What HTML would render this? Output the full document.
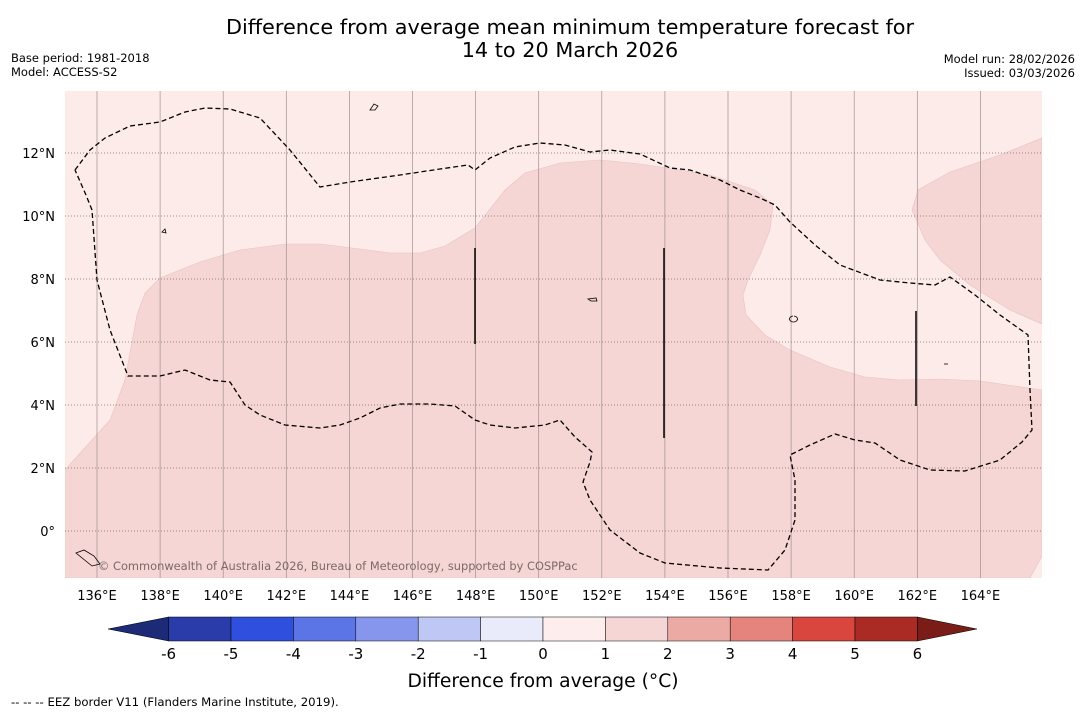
<!DOCTYPE html>
<html><head><meta charset="utf-8"><style>
body{margin:0;background:#fff;font-family:"Liberation Sans","DejaVu Sans",sans-serif;}
svg{display:block}
</style></head><body>
<svg width="1085" height="713" viewBox="0 0 1085 713" xmlns="http://www.w3.org/2000/svg" font-family="DejaVu Sans, Liberation Sans, sans-serif">
<text x="570" y="34" font-size="20.8" text-anchor="middle">Difference from average mean minimum temperature forecast for</text>
<text x="570" y="57" font-size="20.8" text-anchor="middle">14 to 20 March 2026</text>
<text x="11" y="62" font-size="11.5">Base period: 1981-2018</text>
<text x="11" y="76" font-size="11.5">Model: ACCESS-S2</text>
<text x="1075" y="63" font-size="11.5" text-anchor="end">Model run: 28/02/2026</text>
<text x="1075" y="77" font-size="11.5" text-anchor="end">Issued: 03/03/2026</text>
<defs><clipPath id="mc"><rect x="65" y="91" width="977" height="487"/></clipPath></defs>
<g clip-path="url(#mc)">
<rect x="65" y="91" width="977" height="487" fill="#fcebe9"/>
<path fill="#f5d6d4" stroke="#e8c3c0" stroke-width="0.6" d="M65,470 L110,420 L125,380 L137,315 L145,293 L160,278 L200,262 L240,250 L285,244 L320,244 L360,249 L390,253 L420,253 L445,246 L475,228 L505,190 L525,173 L560,163 L600,160 L640,164 L680,170 L710,175 L755,190 L773,205 L770,230 L760,255 L748,280 L743,295 L746,315 L765,335 L790,350 L830,367 L865,377 L900,380 L940,379 L980,381 L1042,390 L1042,556 L1030,578 L65,578 Z"/>
<path fill="#f5d6d4" stroke="#e8c3c0" stroke-width="0.6" d="M912,210 L918,190 L950,172 L1000,155 L1042,138 L1042,324 L1010,310 L970,285 L940,260 L925,240 Z"/>
<g id="grid"></g>
<path fill="none" stroke="#000" stroke-width="1.3" stroke-dasharray="5,3" d="M75,170 L90,150 L105,138 L130,126 L160,122 L185,112 L205,108 L230,109 L260,118 L290,150 L320,187 L350,182 L400,175 L440,169 L468,165 L475,170 L490,158 L515,147 L540,143 L565,145 L590,152 L610,150 L640,154 L670,168 L690,170 L720,180 L740,190 L760,198 L775,205 L790,222 L815,245 L840,265 L880,280 L910,283 L935,285 L950,277 L975,295 L1000,315 L1028,335 L1030,390 L1032,430 L1022,442 L1000,460 L965,471 L930,470 L900,460 L875,443 L855,440 L835,434 L810,445 L790,455 L795,480 L795,520 L785,550 L768,570 L720,568 L665,563 L640,553 L610,530 L590,500 L583,482 L590,462 L592,452 L575,437 L560,420 L545,425 L515,428 L490,425 L475,420 L455,406 L430,404 L400,404 L380,408 L360,418 L340,425 L320,428 L285,425 L260,415 L245,405 L230,382 L210,380 L185,370 L160,376 L128,376 L110,330 L97,280 L92,210 L86,195 L75,170"/>
<g stroke="#000" stroke-width="1.5">
<line x1="475" y1="248" x2="475" y2="344"/><line x1="664" y1="248" x2="664" y2="438"/><line x1="916" y1="311" x2="916" y2="406"/>
</g>
<g fill="none" stroke="#000" stroke-width="0.8">
<path d="M370,110 l4,-6 l4,2 l-3,4 z"/><path d="M162,232 l3,-3 l1,4 z"/><path d="M588,299 l8,-1 l1,3 l-6,0 z"/><path d="M793,316 a4,3 0 1,0 1,0"/><path d="M944,364 l4,0"/><path d="M76,553 l8,-3 l10,6 l6,8 l-8,2 z"/>
</g>
<text x="98" y="570" font-size="11.4" fill="#7a6a6a">© Commonwealth of Australia 2026, Bureau of Meteorology, supported by COSPPac</text>
</g>
<g id="axes"></g>
<g id="cbar"></g>
<text x="543" y="687" font-size="18.7" text-anchor="middle">Difference from average (°C)</text>
<text x="11" y="706" font-size="11.7">--  --  -- EEZ border V11 (Flanders Marine Institute, 2019).</text>
</svg>
<script>
const NS="http://www.w3.org/2000/svg";
const lonTicks=[136,138,140,142,144,146,148,150,152,154,156,158,160,162,164];
const latTicks=[0,2,4,6,8,10,12];
const cbLevels=[-6,-5,-4,-3,-2,-1,0,1,2,3,4,5,6];
const cbColors=["#2a3caa","#2f4fdf","#5b74e6","#8596ec","#bfc7f4","#e9ebfb","#fdeeed","#f5d6d4","#ecaaa5","#e4847d","#d8463d","#a92b24"];
const xLon=l=>97+(l-136)*31.55, yLat=l=>531-l*31.5;
const xCb=v=>543+v*62.4;
function mk(t,a,p){const e=document.createElementNS(NS,t);for(const k in a)e.setAttribute(k,a[k]);p.appendChild(e);return e;}
const grid=document.getElementById('grid'),axes=document.getElementById('axes'),cb=document.getElementById('cbar');
lonTicks.forEach(l=>{
 const ln=mk('line',{x1:xLon(l),x2:xLon(l),y1:91,y2:578,stroke:'#a09090','stroke-width':0.7},grid);
 
 
 const t=mk('text',{x:xLon(l),y:600,'font-size':13,'text-anchor':'middle'},axes);t.textContent=l+'°E';
 
 
});
latTicks.forEach(l=>{
 const ln=mk('line',{x1:65,x2:1042,y1:yLat(l),y2:yLat(l),stroke:'#806868','stroke-width':0.7,'stroke-dasharray':'1,2'},grid);
 
 
 const t=mk('text',{x:55,y:yLat(l)+5,'font-size':13,'text-anchor':'end'},axes);t.textContent=l===0?'0°':l+'°N';
 
 
});
const lo=mk('polygon',{points:`${xCb(-6)},617 108,629 ${xCb(-6)},641`,fill:'#1c2a78',stroke:'#000','stroke-width':0.5},cb);


const hi=mk('polygon',{points:`${xCb(6)},617 977,629 ${xCb(6)},641`,fill:'#7a1c17',stroke:'#000','stroke-width':0.5},cb);


cbColors.forEach((c,i)=>{
 const r=mk('rect',{x:xCb(cbLevels[i]),y:617,width:xCb(cbLevels[i+1])-xCb(cbLevels[i]),height:24,fill:c,stroke:'#000','stroke-width':0.5},cb);
 
 
});
cbLevels.forEach(v=>{
 const t=mk('text',{x:xCb(v),y:659,'font-size':15,'text-anchor':'middle'},cb);t.textContent=v;
 
 
});
</script>
</body></html>
